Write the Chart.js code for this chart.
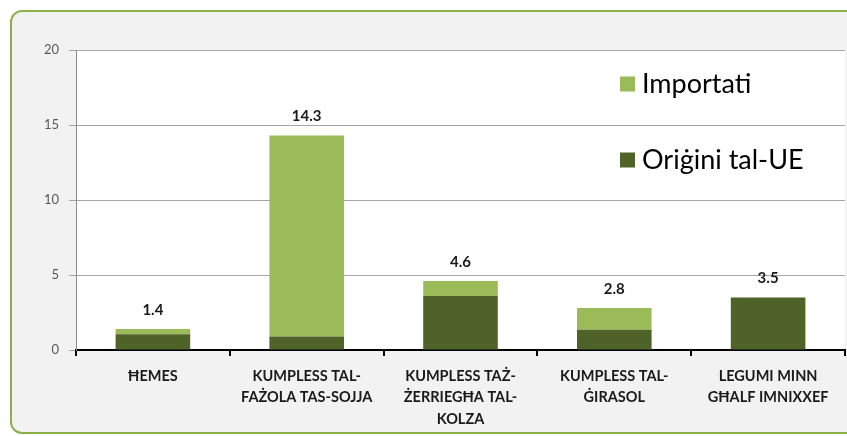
<!DOCTYPE html>
<html><head><meta charset="utf-8">
<script src="https://cdn.jsdelivr.net/npm/chart.js@4/dist/chart.umd.min.js"></script>
<style>
html,body{margin:0;padding:0;background:#fff;}
#wrap{position:relative;width:847px;height:436px;overflow:hidden;}
#frame{position:absolute;left:10px;top:10px;width:860px;height:420px;border:2.5px solid #8db04b;border-radius:12px;background:#f2f2f2;}
canvas{position:absolute;left:0;top:0;}
</style></head>
<body>
<div id="wrap"><div id="frame"></div><canvas id="c" width="847" height="436"></canvas></div>
<script>
const categories = [
  ["ĦEMES"],
  ["KUMPLESS TAL-","FAŻOLA TAS-SOJJA"],
  ["KUMPLESS TAŻ-","ŻERRIEGĦA TAL-","KOLZA"],
  ["KUMPLESS TAL-","ĠIRASOL"],
  ["LEGUMI MINN","GĦALF IMNIXXEF"]
];
const euOrigin = [1.05, 0.9, 3.6, 1.35, 3.5];
const imported = [0.35, 13.4, 1.0, 1.45, 0.0];
const totals = [1.4, 14.3, 4.6, 2.8, 3.5];
const yTicks = [0, 5, 10, 15, 20];
const seriesNames = ["Oriġini tal-UE", "Importati"];
const colors = ["#4f6228", "#9bbb59"];

const bgPlugin = {
  id:'bg',
  beforeDraw(chart){
    const {ctx, chartArea:a} = chart;
    ctx.save(); ctx.fillStyle='#fff';
    ctx.fillRect(a.left, a.top, a.right-a.left, a.bottom-a.top);
    ctx.restore();
  }
};
const labelPlugin = {
  id:'totals',
  afterDatasetsDraw(chart){
    const ctx = chart.ctx;
    const meta = chart.getDatasetMeta(1);
    ctx.save();
    ctx.font = 'bold 15px Lato';
    ctx.fillStyle = '#1a1a1a';
    ctx.textAlign = 'center'; ctx.textBaseline='middle';
    meta.data.forEach((el,i)=>{
      ctx.fillText(totals[i].toFixed(1), el.x, el.y - 19);
    });
    ctx.restore();
  }
};
const legendPlugin = {
  id:'customLegend',
  afterDraw(chart){
    const ctx = chart.ctx;
    const items = [{t:seriesNames[1], c:colors[1], y:84},{t:seriesNames[0], c:colors[0], y:160}];
    ctx.save();
    ctx.font = '27px Lato';
    ctx.textBaseline='middle'; ctx.textAlign='left';
    items.forEach(it=>{
      ctx.fillStyle = it.c; ctx.fillRect(620, it.y-7.5, 15, 15);
      ctx.fillStyle = '#000'; ctx.fillText(it.t, 642, it.y);
    });
    ctx.restore();
  }
};

new Chart(document.getElementById('c'), {
  type:'bar',
  data:{
    labels: categories,
    datasets:[
      {label:seriesNames[0], data:euOrigin, backgroundColor:colors[0], barPercentage:0.97, categoryPercentage:0.5},
      {label:seriesNames[1], data:imported, backgroundColor:colors[1], barPercentage:0.97, categoryPercentage:0.5}
    ]
  },
  options:{
    responsive:false, animation:false,
    layout:{padding:{left:10, top:50, right:2, bottom:0}},
    plugins:{legend:{display:false}, tooltip:{enabled:false}},
    scales:{
      x:{
        stacked:true,
        afterFit(s){ s.height = 86; },
        border:{color:'#000', width:2},
        grid:{drawOnChartArea:false, color:'#000', lineWidth:2, tickLength:6, offset:true},
        ticks:{color:'#1a1a1a', font:{family:'Lato', size:14.5, weight:'bold', lineHeight:1.5}, padding:9, maxRotation:0, autoSkip:false}
      },
      y:{
        stacked:true, min:0, max:20,
        afterFit(s){ s.width = 66; },
        afterBuildTicks(s){ s.ticks = yTicks.map(v=>({value:v})); },
        border:{color:'#8c8c8c', width:1},
        grid:{color:'#a6a6a6', lineWidth:1, tickLength:7},
        ticks:{color:'#595959', font:{family:'Lato', size:13}, padding:10}
      }
    }
  },
  plugins:[bgPlugin, labelPlugin, legendPlugin]
});
</script>
</body></html>
